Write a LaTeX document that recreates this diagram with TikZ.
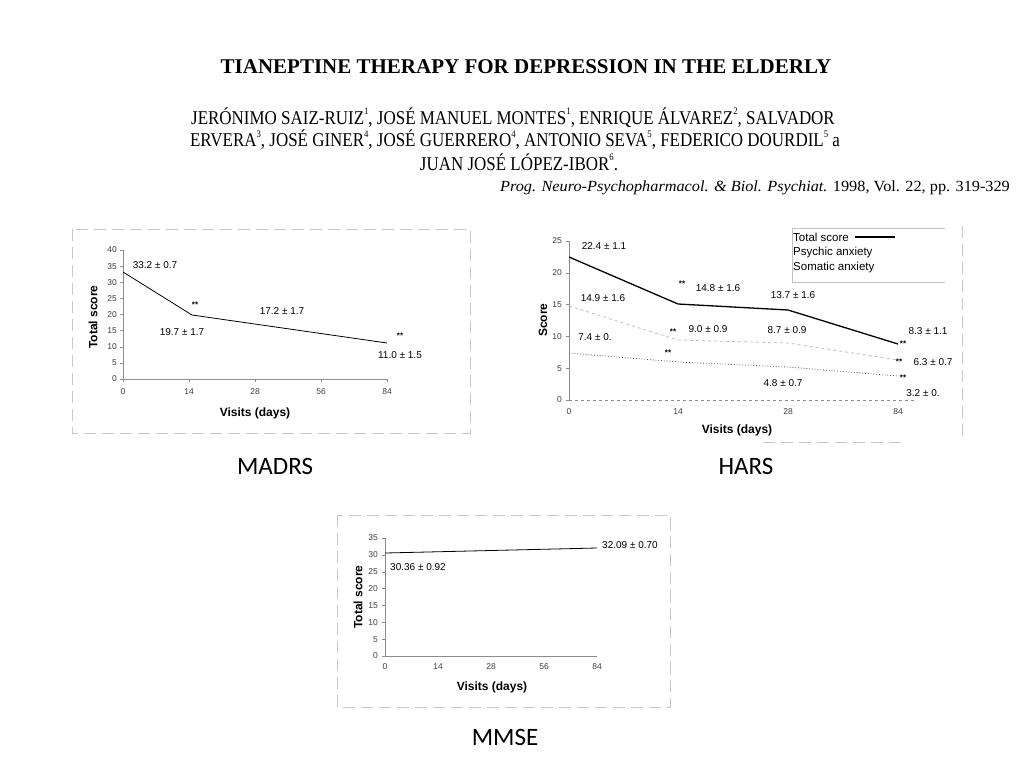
\documentclass[tikz,border=0pt]{standalone}
\usepackage{fontspec}
\setmainfont{Liberation Sans}
\newfontfamily\paperfont{Liberation Serif}
\newfontfamily\authorfont[FakeStretch=0.87]{Liberation Serif}
\newfontfamily\journalfont[FakeStretch=1.05]{Liberation Serif}
\newfontfamily\capfont{Carlito}
\newcommand{\affil}[1]{\raisebox{1.1ex}{\fontsize{10}{10}\selectfont #1}}
\usetikzlibrary{positioning}

\begin{document}
\begin{tikzpicture}
  [x=1pt,y=-1pt,every node/.style={inner sep=0pt},
   tick/.style={font=\fontsize{8.5}{9}\selectfont,text=black!75},
   val/.style={font=\fontsize{10}{10}\selectfont},
   stars/.style={font=\bfseries\fontsize{8}{8}\selectfont},
   axtitle/.style={font=\bfseries\fontsize{12}{12}\selectfont},
   axis/.style={draw=black!45,line width=0.5pt},
   frame/.style={draw=black!22,dashed,dash pattern=on 12pt off 6pt,line width=0.6pt},
   total/.style={draw=black,line width=1.3pt},
   psychic/.style={draw=black!25,dashed,line width=0.8pt},
   somatic/.style={draw=black!70,dotted,line width=0.8pt},
   author/.style={font=\authorfont\fontsize{19.5}{20}\selectfont},
   caption/.style={font=\capfont\fontsize{25}{25}\selectfont}]

  \useasboundingbox[fill=white] (0,0) rectangle (1024,768);

  % header of the paper
  \node[font=\paperfont\bfseries\fontsize{21}{21}\selectfont] (title) at (526,67)
    {TIANEPTINE THERAPY FOR DEPRESSION IN THE ELDERLY};
  \node[author] (auth1) at (513,118)
    {JERÓNIMO SAIZ-RUIZ\affil{1}, JOSÉ MANUEL MONTES\affil{1}, ENRIQUE ÁLVAREZ\affil{2}, SALVADOR};
  \node[author] (auth2) at (515,140)
    {ERVERA\affil{3}, JOSÉ GINER\affil{4}, JOSÉ GUERRERO\affil{4}, ANTONIO SEVA\affil{5}, FEDERICO DOURDIL\affil{5} a};
  \node[author] (auth3) at (519,162)
    {JUAN JOSÉ LÓPEZ-IBOR\affil{6}.};
  \node[font=\journalfont\fontsize{15.5}{16}\selectfont] (journal) at (755,188)
    {\itshape Prog. Neuro-Psychopharmacol. \& Biol. Psychiat. \upshape 1998, Vol. 22, pp. 319-329};

  % MADRS
  \draw[frame] (72,229) rectangle (470,433);
  \draw[axis] (123,250) -- (123,379) -- (387,379);
  \foreach \v in {0,5,...,40} {
    \draw[axis] (120,{379-\v*3.225}) -- (123,{379-\v*3.225});
    \node[tick,anchor=east] at (117,{379-\v*3.225}) {\v};
  }
  \foreach \d [count=\i from 0] in {0,14,28,56,84} {
    \draw[axis] ({123+\i*66},379) -- ({123+\i*66},382);
    \node[tick] at ({123+\i*66},392) {\d};
  }
  \node[axtitle] (mx) at (255,413) {Visits (days)};
  \node[axtitle,rotate=90] (my) at (93,317) {Total score};
  \coordinate (m0) at (123,272);
  \coordinate (m14) at (192,315);
  \coordinate (m84) at (387,343);
  \draw[draw=black,line width=0.8pt] (m0) -- (m14) -- (m84);
  \node[val] (mv0) at (155,265) {33.2 ± 0.7};
  \node[stars] (ms14) at (195,305) {**};
  \node[val] (mv14) at (182,332) {19.7 ± 1.7};
  \node[val] (mv28) at (282,311) {17.2 ± 1.7};
  \node[stars] (ms84) at (400,336) {**};
  \node[val] (mv84) at (400,355) {11.0 ± 1.5};
  \node[caption] (madrs) at (275,466) {MADRS};

  % HARS
  \draw[frame] (962,226) -- (962,442);
  \draw[frame] (763,442) -- (907,442);
  \draw[axis] (569,241) -- (569,400);
  \draw[axis,dashed] (569,400) -- (915,400);
  \foreach \v in {0,5,...,25} {
    \draw[axis] (566,{400-\v*6.36}) -- (569,{400-\v*6.36});
    \node[tick,anchor=east] at (562,{400-\v*6.36}) {\v};
  }
  \foreach \d/\x in {0/569,14/678,28/788,84/898} {
    \node[tick] at (\x,412) {\d};
  }
  \node[axtitle] (hx) at (737,430) {Visits (days)};
  \node[axtitle,rotate=90] (hy) at (543,320) {Score};
  \coordinate (t0) at (569,257);
  \coordinate (t14) at (678,304);
  \coordinate (t28) at (788,310);
  \coordinate (t84) at (898,344);
  \coordinate (p0) at (569,306);
  \coordinate (p14) at (678,340);
  \coordinate (p28) at (788,343);
  \coordinate (p84) at (898,360);
  \coordinate (s0) at (569,353);
  \coordinate (s14) at (678,362);
  \coordinate (s28) at (788,367);
  \coordinate (s84) at (898,376);
  \draw[total] (t0) -- (t14) -- (t28) -- (t84);
  \draw[psychic] (p0) -- (p14) -- (p28) -- (p84);
  \draw[somatic] (s0) -- (s14) -- (s28) -- (s84);
  \node[val] (ht0) at (604,246) {22.4 ± 1.1};
  \node[val] (hp0) at (603,298) {14.9 ± 1.6};
  \node[val] (hs0) at (595,337) {7.4 ± 0.};
  \node[stars] (hts14) at (682,284) {**};
  \node[val] (ht14) at (718,288) {14.8 ± 1.6};
  \node[val] (ht28) at (793,295) {13.7 ± 1.6};
  \node[stars] (hps14) at (673,332) {**};
  \node[val] (hp14) at (708,329) {9.0 ± 0.9};
  \node[val] (hp28) at (787,330) {8.7 ± 0.9};
  \node[stars] (hss14) at (668,353) {**};
  \node[val] (ht84) at (928,331) {8.3 ± 1.1};
  \node[stars] (hts84) at (903,344) {**};
  \node[stars] (hps84) at (899,362) {**};
  \node[val] (hp84) at (933,362) {6.3 ± 0.7};
  \node[stars] (hss84) at (903,378) {**};
  \node[val] (hs28) at (783,383) {4.8 ± 0.7};
  \node[val] (hs84) at (923,393) {3.2 ± 0.};
  % legend
  \draw[draw=black!25] (945,228) -- (792,228) -- (792,282) -- (945,282);
  \node[font=\fontsize{11.5}{12}\selectfont,anchor=west] (lt) at (793,237) {Total score};
  \node[font=\fontsize{11.5}{12}\selectfont,anchor=west] (lp) at (793,253) {Psychic anxiety};
  \node[font=\fontsize{11.5}{12}\selectfont,anchor=west] (ls) at (793,268) {Somatic anxiety};
  \coordinate (ltl) at (855,237);
  \coordinate (ltr) at (895,237);
  \draw[total] (ltl) -- (ltr);
  \node[caption] (hars) at (746,466) {HARS};

  % MMSE
  \draw[frame] (337,515) rectangle (670,707);
  \draw[axis] (385,538) -- (385,656) -- (597,656);
  \foreach \v in {0,5,...,35} {
    \draw[axis] (382,{656-\v*3.37}) -- (385,{656-\v*3.37});
    \node[tick,anchor=east] at (378,{656-\v*3.37}) {\v};
  }
  \foreach \d [count=\i from 0] in {0,14,28,56,84} {
    \node[tick] at ({385+\i*53},667) {\d};
  }
  \node[axtitle] (ex) at (492,687) {Visits (days)};
  \node[axtitle,rotate=90] (ey) at (358,597) {Total score};
  \coordinate (e0) at (385,553);
  \coordinate (e84) at (597,548);
  \draw[draw=black,line width=0.8pt] (e0) -- (e84);
  \node[val] (ev0) at (418,567) {30.36 ± 0.92};
  \node[val] (ev84) at (630,545) {32.09 ± 0.70};
  \node[caption] (mmse) at (505,737) {MMSE};

\end{tikzpicture}
\end{document}
